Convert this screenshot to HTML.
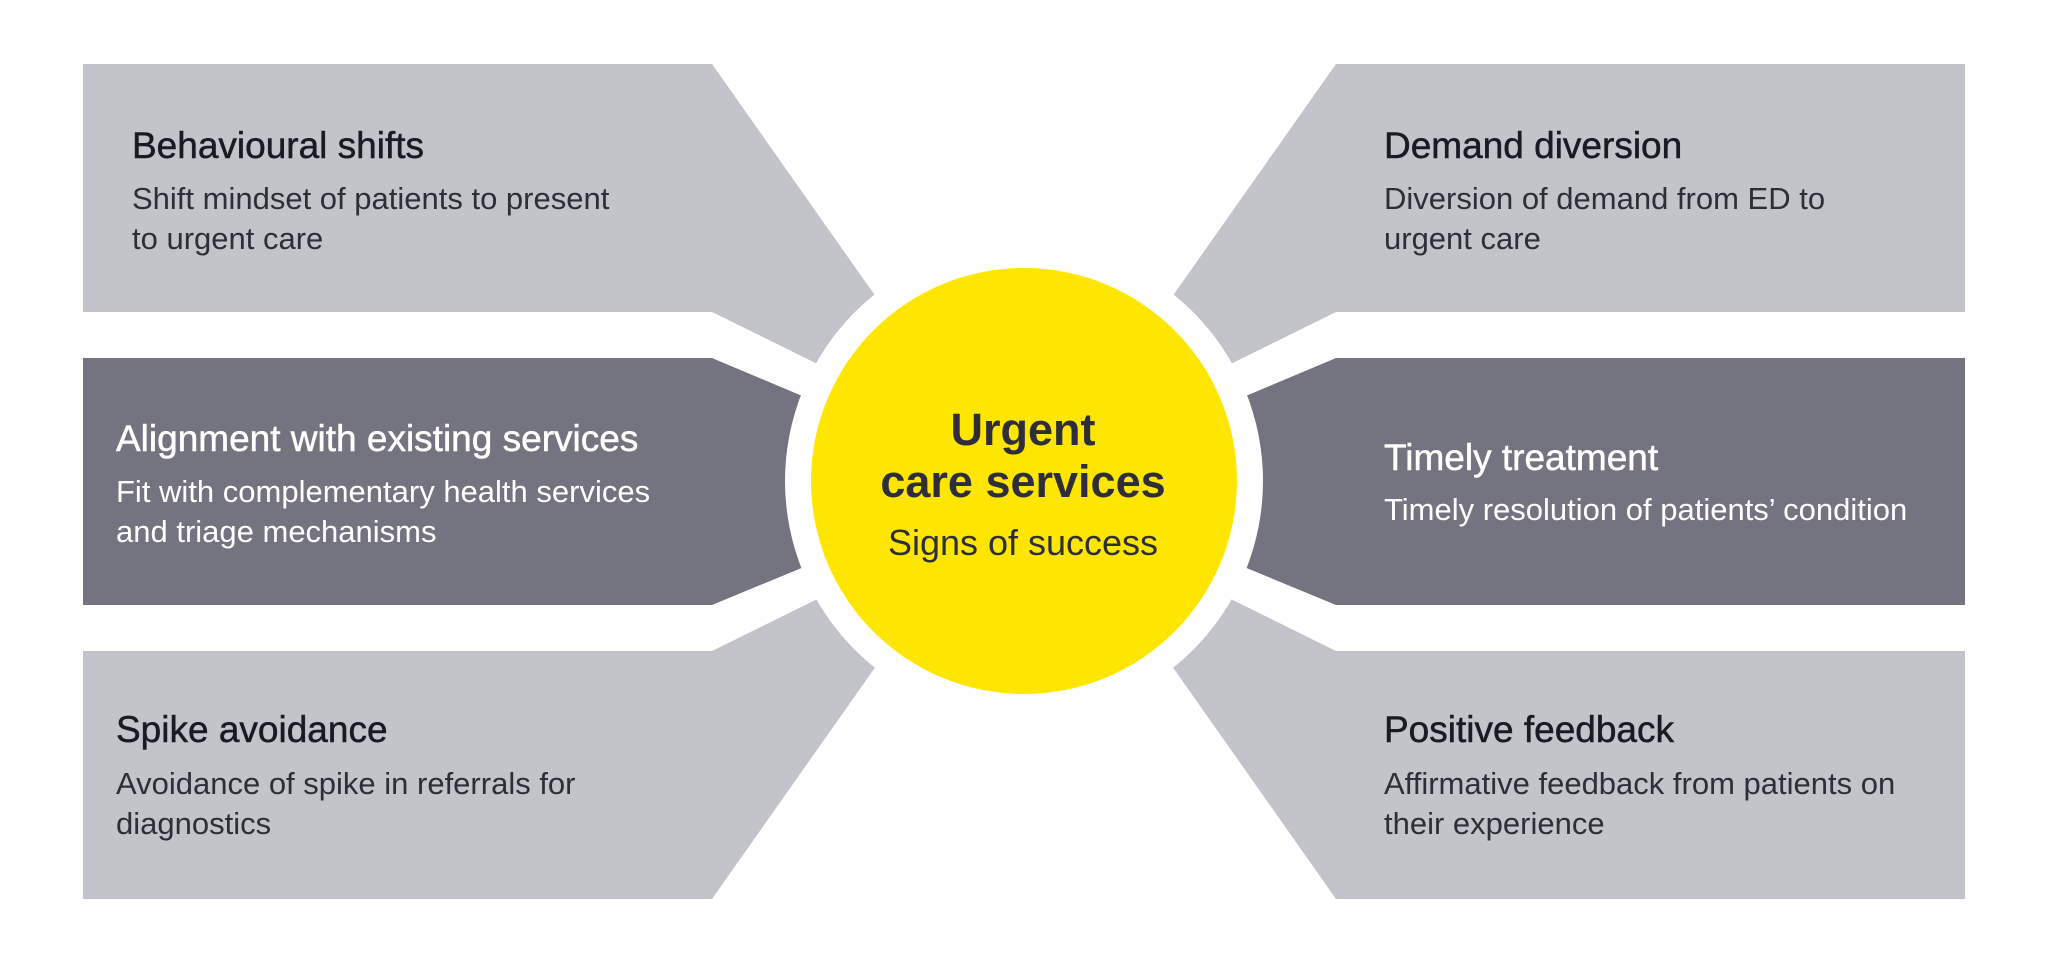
<!DOCTYPE html>
<html><head><meta charset="utf-8"><style>
html,body{margin:0;padding:0;background:#fff;}
svg{display:block;}
text{font-family:"Liberation Sans",sans-serif;}
.t{font-size:37px;fill:#1a1a24;stroke:#1a1a24;stroke-width:0.5px;}
.b{font-size:31px;fill:#2e2e38;}
.tw{font-size:37px;fill:#fff;stroke:#fff;stroke-width:0.5px;}
.bw{font-size:31px;fill:#fff;}
</style></head><body>
<svg width="2048" height="964" viewBox="0 0 2048 964" xmlns="http://www.w3.org/2000/svg">
<g fill="#c3c4ca">
<polygon points="83,64 712,64 950,402 947,428 712,312 83,312"/>
<polygon points="83,899 712,899 950,561 947,535 712,651 83,651"/>
<polygon points="1965,64 1336,64 1098,402 1101,428 1336,312 1965,312"/>
<polygon points="1965,899 1336,899 1098,561 1101,535 1336,651 1965,651"/>
</g>
<g fill="#747480">
<polygon points="83,358 712,358 990,475 990,490 712,605 83,605"/>
<polygon points="1965,358 1336,358 1058,475 1058,490 1336,605 1965,605"/>
</g>
<circle cx="1024" cy="481" r="239" fill="#fff"/>
<circle cx="1024" cy="481" r="213" fill="#ffe600"/>
<text class="t" x="132" y="158">Behavioural shifts</text>
<text class="b" x="132" y="209">Shift mindset of patients to present</text>
<text class="b" x="132" y="249">to urgent care</text>
<text class="tw" x="116" y="451">Alignment with existing services</text>
<text class="bw" x="116" y="502">Fit with complementary health services</text>
<text class="bw" x="116" y="542">and triage mechanisms</text>
<text class="t" x="116" y="742">Spike avoidance</text>
<text class="b" x="116" y="794">Avoidance of spike in referrals for</text>
<text class="b" x="116" y="834">diagnostics</text>
<text class="t" x="1384" y="158">Demand diversion</text>
<text class="b" x="1384" y="209">Diversion of demand from ED to</text>
<text class="b" x="1384" y="249">urgent care</text>
<text class="tw" x="1384" y="470">Timely treatment</text>
<text class="bw" x="1384" y="520">Timely resolution of patients’ condition</text>
<text class="t" x="1384" y="742">Positive feedback</text>
<text class="b" x="1384" y="794">Affirmative feedback from patients on</text>
<text class="b" x="1384" y="834">their experience</text>
<text x="1023" y="445" text-anchor="middle" style="font-size:45px;font-weight:bold;fill:#2e2e38">Urgent</text>
<text x="1023" y="497" text-anchor="middle" style="font-size:45px;font-weight:bold;fill:#2e2e38">care services</text>
<text x="1023" y="555" text-anchor="middle" style="font-size:36px;fill:#2e2e38">Signs of success</text>
</svg>
</body></html>
